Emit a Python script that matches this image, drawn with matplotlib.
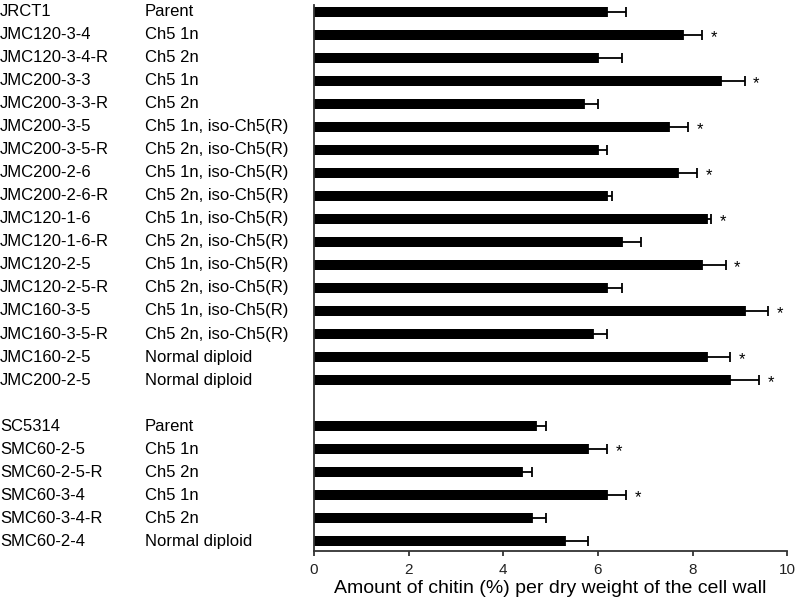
import numpy as np
import matplotlib.pyplot as plt
from matplotlib import transforms

plt.rcParams['font.family'] = ['Liberation Sans', 'DejaVu Sans']

strains = ["JRCT1", "JMC120-3-4", "JMC120-3-4-R", "JMC200-3-3", "JMC200-3-3-R",
           "JMC200-3-5", "JMC200-3-5-R", "JMC200-2-6", "JMC200-2-6-R",
           "JMC120-1-6", "JMC120-1-6-R", "JMC120-2-5", "JMC120-2-5-R",
           "JMC160-3-5", "JMC160-3-5-R", "JMC160-2-5", "JMC200-2-5",
           "",
           "SC5314", "SMC60-2-5", "SMC60-2-5-R", "SMC60-3-4", "SMC60-3-4-R", "SMC60-2-4"]
genotypes = ["Parent", "Ch5 1n", "Ch5 2n", "Ch5 1n", "Ch5 2n",
             "Ch5 1n, iso-Ch5(R)", "Ch5 2n, iso-Ch5(R)", "Ch5 1n, iso-Ch5(R)", "Ch5 2n, iso-Ch5(R)",
             "Ch5 1n, iso-Ch5(R)", "Ch5 2n, iso-Ch5(R)", "Ch5 1n, iso-Ch5(R)", "Ch5 2n, iso-Ch5(R)",
             "Ch5 1n, iso-Ch5(R)", "Ch5 2n, iso-Ch5(R)", "Normal diploid", "Normal diploid",
             "",
             "Parent", "Ch5 1n", "Ch5 2n", "Ch5 1n", "Ch5 2n", "Normal diploid"]
chitin = [6.2, 7.8, 6.0, 8.6, 5.7, 7.5, 6.0, 7.7, 6.2, 8.3, 6.5, 8.2, 6.2, 9.1, 5.9, 8.3, 8.8,
          np.nan,
          4.7, 5.8, 4.4, 6.2, 4.6, 5.3]
sd = [0.4, 0.4, 0.5, 0.5, 0.3, 0.4, 0.2, 0.4, 0.1, 0.1, 0.4, 0.5, 0.3, 0.5, 0.3, 0.5, 0.6,
      np.nan,
      0.2, 0.4, 0.2, 0.4, 0.3, 0.5]
signif = [0, 1, 0, 1, 0, 1, 0, 1, 0, 1, 0, 1, 0, 1, 0, 1, 1,
          0,
          0, 1, 0, 1, 0, 0]

y = np.arange(len(strains))
vals = np.array(chitin)
errs = np.array(sd)
ok = ~np.isnan(vals)

fig = plt.figure(figsize=(8, 6.07), dpi=100)
ax = fig.add_axes([0.3925, 0.0923, 0.5915, 0.8995])

ax.barh(y[ok], vals[ok], height=0.44, color='black')
ax.errorbar(vals[ok], y[ok], xerr=[np.zeros(ok.sum()), errs[ok]], fmt='none',
            ecolor='black', elinewidth=1.3, capsize=3.5, capthick=1.3)

for yi, v, e, s in zip(y, vals, errs, signif):
    if s:
        ax.text(v + e + 0.18, yi + 0.12, "*", fontsize=12, ha='left', va='center')

# strain and genotype columns
trans = transforms.blended_transform_factory(fig.transFigure, ax.transData)
for yi, name, geno in zip(y, strains, genotypes):
    fig.text(0.0, yi, name, fontsize=12, ha='left', va='center', transform=trans)
    fig.text(145 / 800, yi, geno, fontsize=12, ha='left', va='center', transform=trans)

ax.set_xlim(0, 10)
ax.set_ylim(23.43, -0.3)
ax.set_xticks([0, 2, 4, 6, 8, 10])
ax.set_yticks([])
ax.tick_params(axis='x', direction='out', length=3.5, width=1.2, labelsize=11,
               colors='#222222', pad=5)
ax.spines['top'].set_visible(False)
ax.spines['right'].set_visible(False)
for side in ['left', 'bottom']:
    ax.spines[side].set_linewidth(1.3)
    ax.spines[side].set_color('#333333')
ax.set_xlabel("Amount of chitin (%) per dry weight of the cell wall", fontsize=14, labelpad=2)

fig.savefig("out.png", dpi=100)
